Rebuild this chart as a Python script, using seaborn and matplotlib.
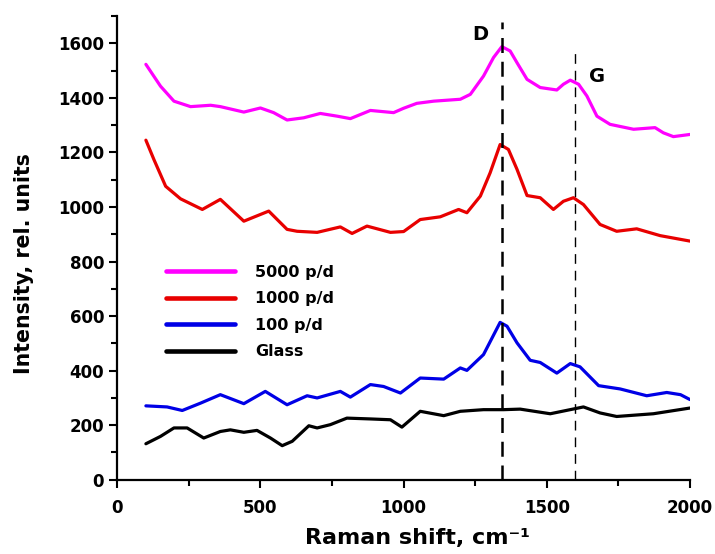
import numpy as np
import pandas as pd
import matplotlib
matplotlib.use('Agg')
import matplotlib.pyplot as plt
from matplotlib.ticker import MultipleLocator
import seaborn as sns

# Raman spectra (shift in cm-1, intensity in rel. units)

x_5000 = [100, 151, 198, 256, 326, 360, 442, 500, 546, 593, 651, 709, 768, 814, 884, 965, 1000,
          1046, 1105, 1198, 1233, 1279, 1314, 1343, 1372, 1396, 1431, 1477, 1535, 1558, 1582, 1611,
          1640, 1675, 1721, 1803, 1878, 1907, 1942, 2000]
y_5000 = [1523, 1443, 1388, 1368, 1373, 1368, 1348, 1363, 1346, 1319, 1327, 1343, 1333, 1324, 1354, 1346, 1362,
          1380, 1388, 1395, 1413, 1480, 1548, 1588, 1572, 1529, 1468, 1438, 1429, 1450, 1465, 1450,
          1407, 1333, 1303, 1285, 1291, 1272, 1258, 1266]

x_1000 = [100, 128, 169, 221, 297, 360, 442, 529, 593, 628, 698, 779, 820, 872, 954, 1000,
          1058, 1128, 1192, 1221, 1268, 1302, 1337, 1366, 1396, 1431, 1477, 1523, 1558, 1593, 1628,
          1686, 1744, 1814, 1896, 2000]
y_1000 = [1245, 1174, 1076, 1030, 991, 1028, 948, 985, 918, 911, 907, 927, 903, 930, 907, 910,
          954, 964, 991, 979, 1040, 1125, 1229, 1211, 1138, 1042, 1034, 991, 1021, 1034, 1009,
          936, 911, 920, 895, 875]

x_100 = [100, 174, 227, 291, 360, 442, 517, 593, 663, 698, 779, 814, 884, 930, 989,
         1058, 1140, 1198, 1221, 1279, 1337, 1361, 1396, 1442, 1477, 1535, 1582, 1616, 1681,
         1756, 1849, 1919, 1967, 2000]
y_100 = [271, 267, 254, 281, 312, 279, 324, 275, 308, 300, 324, 303, 349, 342, 318,
         373, 369, 410, 401, 459, 577, 563, 502, 438, 430, 391, 426, 414, 345,
         333, 308, 320, 312, 294]

x_glass = [100, 151, 198, 244, 302, 360, 395, 442, 488, 535, 576, 611, 669, 698, 744, 802, 884,
           954, 994, 1058, 1140, 1198, 1279, 1349, 1407, 1512, 1628, 1686, 1744, 1872, 2000]
y_glass = [132, 159, 190, 190, 153, 177, 183, 174, 181, 153, 125, 141, 198, 190, 202, 226, 223,
           220, 193, 251, 235, 251, 257, 257, 259, 242, 267, 245, 232, 242, 263]

labels = ['5000 p/d', '1000 p/d', '100 p/d', 'Glass']
colors = ['#ff00ff', '#e80000', '#0000e6', '#000000']

peak_pos = [1343, 1598]
peak_names = ['D', 'G']

# Long form table for seaborn

frames = []
for lab, xs, ys in zip(labels, [x_5000, x_1000, x_100, x_glass], [y_5000, y_1000, y_100, y_glass]):
    frames.append(pd.DataFrame({'shift': xs, 'intensity': ys, 'sample': lab}))
df = pd.concat(frames, ignore_index=True)

sns.set_style('ticks')
plt.rcParams['font.family'] = ['DejaVu Sans']
plt.rcParams['font.weight'] = 'bold'
for key in ['text.color', 'axes.labelcolor', 'xtick.color', 'ytick.color', 'axes.edgecolor']:
    plt.rcParams[key] = 'black'

fig = plt.figure(figsize=(7.15, 5.54), dpi=100)
ax = fig.add_axes([0.164, 0.134, 0.801, 0.837])

sns.lineplot(data=df, x='shift', y='intensity', hue='sample', hue_order=labels,
             palette=colors, estimator=None, sort=False, lw=2.3, ax=ax)

# D and G band markers
ax.plot([peak_pos[0], peak_pos[0]], [0, 1680], color='black', lw=1.8, dashes=(6, 3.5))
ax.plot([peak_pos[1], peak_pos[1]], [0, 1580], color='black', lw=1.0, dashes=(7, 5))
ax.text(1267, 1633, peak_names[0], fontsize=14, fontweight='bold', ha='center', va='center')
ax.text(1675, 1478, peak_names[1], fontsize=14, fontweight='bold', ha='center', va='center')

ax.set_xlim(0, 2000)
ax.set_ylim(0, 1700)
ax.xaxis.set_major_locator(MultipleLocator(500))
ax.xaxis.set_minor_locator(MultipleLocator(250))
ax.yaxis.set_major_locator(MultipleLocator(200))
ax.yaxis.set_minor_locator(MultipleLocator(100))
ax.tick_params(which='major', direction='out', length=6, width=1.5, labelsize=12)
ax.tick_params(which='minor', direction='out', length=4, width=1.5)
ax.tick_params(axis='x', which='major', pad=8)
for lab in ax.get_xticklabels() + ax.get_yticklabels():
    lab.set_fontweight('bold')
for s in ['left', 'bottom']:
    ax.spines[s].set_linewidth(1.6)
sns.despine(ax=ax)

ax.set_xlabel('Raman shift, cm⁻¹', fontsize=16, fontweight='bold')
ax.set_ylabel('Intensity, rel. units', fontsize=14.8, fontweight='bold')
ax.xaxis.set_label_coords(0.524, -0.105)
ax.yaxis.set_label_coords(-0.145, 0.466)

leg = ax.legend(loc='upper left', bbox_to_anchor=(0.06, 0.495), frameon=False,
                fontsize=11.5, handlelength=4.3, handletextpad=1.3, labelspacing=0.72)
for line in leg.get_lines():
    line.set_linewidth(3.3)
for t in leg.get_texts():
    t.set_fontweight('bold')

fig.savefig('out.png', dpi=100)
